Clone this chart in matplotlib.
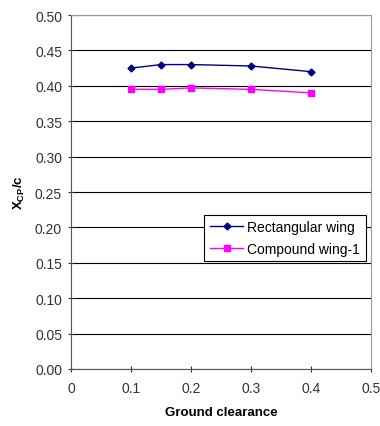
import numpy as np
import matplotlib
matplotlib.use('Agg')
from matplotlib import pyplot as plt

plt.rcParams['font.family'] = ['Liberation Sans', 'DejaVu Sans']

clearance = [0.1, 0.15, 0.2, 0.3, 0.4]
rect_wing = [0.425, 0.430, 0.430, 0.428, 0.420]
compound_wing = [0.395, 0.395, 0.397, 0.395, 0.390]

fig = plt.figure(figsize=(3.8, 4.27), dpi=100)
ax = fig.add_axes([0.187, 0.1335, 0.789, 0.829])

ax.plot(clearance, rect_wing, color='#000080', marker='D', markersize=3.5, lw=1,
        label='Rectangular wing')
ax.plot(clearance, compound_wing, color='#FF00FF', marker='s', markersize=4.5, lw=1,
        label='Compound wing-1')

ax.set_xlim(0, 0.5)
ax.set_ylim(0, 0.5)
ax.set_xticks(np.arange(0, 0.51, 0.1))
ax.set_xticklabels(['0', '0.1', '0.2', '0.3', '0.4', '0.5'])
ax.set_yticks(np.arange(0, 0.501, 0.05))
ax.set_yticklabels(['%.2f' % v for v in np.arange(0, 0.501, 0.05)])
ax.yaxis.grid(True, color='black', lw=0.8)
ax.set_axisbelow(True)
ax.tick_params(labelsize=10, length=5, width=0.8, colors='#333333', direction='inout')
ax.tick_params(axis='x', pad=6)
ax.tick_params(axis='y', pad=4)
for s in ['left', 'bottom']:
    ax.spines[s].set_color('#555555')
for s in ['top', 'right']:
    ax.spines[s].set_color('#999999')

ax.set_xlabel('Ground clearance', fontsize=9.5, fontweight='bold', labelpad=8)
ax.set_ylabel('X$_{\\mathregular{CP}}$/c', fontsize=9.5, fontweight='bold', labelpad=6)

leg = ax.legend(loc='center right', bbox_to_anchor=(0.983, 0.37), fontsize=10,
                fancybox=False, framealpha=1, edgecolor='black', borderaxespad=0,
                handlelength=2.4, handletextpad=0.3, borderpad=0.4, labelspacing=0.55)
leg.get_frame().set_linewidth(0.8)

fig.savefig('out.png', dpi=100)
